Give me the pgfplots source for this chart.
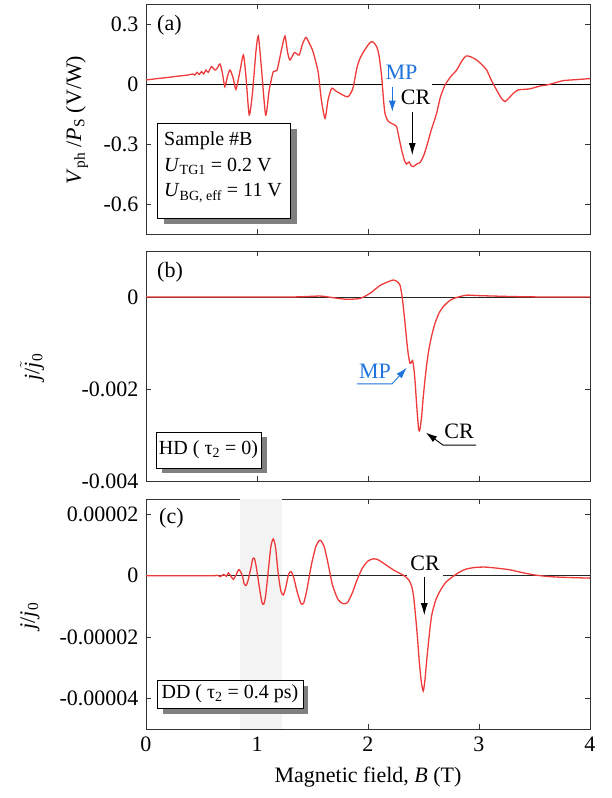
\documentclass[border=0pt]{standalone}
\usepackage{fontspec}
\setmainfont{Liberation Serif}
\usepackage{pgfplots}
\usepackage{pgfplotstable}
\pgfplotsset{compat=1.18}
\usetikzlibrary{arrows.meta}
\definecolor{cred}{RGB}{238,58,58}
\definecolor{cblue}{RGB}{30,115,220}
\definecolor{shadowgray}{RGB}{128,128,128}
\definecolor{bandgray}{RGB}{243,243,243}

\pgfplotstableread{
B V
0 0.020
0.1 0.027
0.2 0.033
0.3 0.040
0.38 0.045
0.42 0.050
0.44 0.045
0.46 0.058
0.48 0.048
0.50 0.062
0.52 0.050
0.54 0.070
0.56 0.058
0.59 0.087
0.62 0.070
0.64 0.078
0.667 0.100
0.69 0.050
0.71 -0.013
0.735 0.040
0.757 0.070
0.785 0.030
0.81 -0.027
0.845 0.060
0.877 0.145
0.90 0.040
0.93 -0.155
0.96 -0.040
0.99 0.160
1.012 0.240
1.04 0.080
1.078 -0.155
1.11 -0.030
1.147 0.062
1.18 0.068
1.22 0.170
1.252 0.240
1.275 0.160
1.297 0.120
1.336 0.157
1.36 0.150
1.381 0.145
1.41 0.200
1.441 0.233
1.47 0.205
1.50 0.170
1.53 0.110
1.553 0.053
1.58 -0.080
1.613 -0.172
1.64 -0.080
1.673 -0.022
1.71 -0.035
1.748 -0.047
1.79 -0.060
1.823 -0.063
1.85 -0.040
1.868 -0.013
1.90 0.080
1.928 0.128
1.97 0.170
2.018 0.207
2.045 0.210
2.078 0.187
2.10 0.140
2.123 0.037
2.14 -0.080
2.153 -0.147
2.18 -0.185
2.213 -0.197
2.24 -0.205
2.258 -0.213
2.28 -0.270
2.303 -0.330
2.33 -0.385
2.348 -0.400
2.37 -0.390
2.39 -0.410
2.408 -0.413
2.44 -0.400
2.468 -0.393
2.50 -0.360
2.528 -0.313
2.57 -0.230
2.618 -0.147
2.65 -0.070
2.694 -0.005
2.75 0.040
2.799 0.070
2.84 0.110
2.883 0.140
2.93 0.135
2.979 0.120
3.02 0.100
3.069 0.070
3.11 0.020
3.159 -0.030
3.20 -0.070
3.234 -0.088
3.27 -0.070
3.309 -0.047
3.35 -0.030
3.399 -0.027
3.45 -0.025
3.50 -0.018
3.55 -0.010
3.61 -0.005
3.68 0.005
3.76 0.017
3.88 0.022
4.0 0.027
}\dataA

\pgfplotstableread{
B J
0 0
1.2 0
1.4 0.000005
1.57 0.00002
1.70 -0.00002
1.81 -0.00005
1.93 -0.00003
2.018 0.00008
2.108 0.00025
2.18 0.00033
2.228 0.00037
2.26 0.00034
2.288 0.00026
2.305 0.00005
2.318 -0.00021
2.335 -0.00060
2.348 -0.00093
2.363 -0.00125
2.378 -0.00144
2.390 -0.00142
2.402 -0.00138
2.413 -0.00155
2.423 -0.00180
2.440 -0.00240
2.455 -0.00285
2.462 -0.00291
2.470 -0.00285
2.483 -0.00260
2.498 -0.00217
2.52 -0.00165
2.543 -0.00122
2.57 -0.00088
2.604 -0.00057
2.64 -0.00035
2.678 -0.00021
2.74 -0.00007
2.799 -0.00001
2.889 0.00004
3.0 0.00003
3.3 0.00001
3.6 0.0
4.0 0.0
}\dataB

\pgfplotstableread{
B J
0 0
0.60 0
0.64 0.2e-6
0.67 -0.3e-6
0.70 0.4e-6
0.725 -0.2e-6
0.742 0.9e-6
0.762 0
0.787 -1.2e-6
0.812 0.3e-6
0.838 2.0e-6
0.868 0
0.884 -2.6e-6
0.902 -3.2e-6
0.920 -1.5e-6
0.945 2.5e-6
0.962 5.5e-6
0.978 5.5e-6
0.995 2.5e-6
1.020 -3.5e-6
1.045 -8.8e-6
1.062 -9.2e-6
1.078 -6.5e-6
1.100 1.0e-6
1.125 9.5e-6
1.147 1.2e-5
1.168 9.0e-6
1.190 1.0e-6
1.215 -5.0e-6
1.237 -6.3e-6
1.258 -4.0e-6
1.285 0.5e-6
1.308 1.3e-6
1.330 -0.5e-6
1.36 -5e-6
1.395 -9.0e-6
1.420 -9.0e-6
1.45 -4.5e-6
1.49 3.5e-6
1.53 9.5e-6
1.568 1.16e-5
1.605 9.5e-6
1.64 4e-6
1.68 -3e-6
1.73 -7.8e-6
1.775 -9.1e-6
1.815 -8.8e-6
1.86 -5.5e-6
1.90 -1.5e-6
1.95 2.5e-6
2.00 4.8e-6
2.05 5.5e-6
2.09 5.2e-6
2.15 3.8e-6
2.228 1.9e-6
2.30 0.5e-6
2.333 -0.2e-6
2.37 -1.5e-6
2.393 -3.4e-6
2.41 -6.5e-6
2.423 -1.1e-5
2.443 -1.9e-5
2.462 -2.8e-5
2.48 -3.45e-5
2.498 -3.76e-5
2.513 -3.4e-5
2.528 -2.8e-5
2.55 -2.0e-5
2.573 -1.31e-5
2.61 -8e-6
2.649 -5e-6
2.70 -2.2e-6
2.768 -0.2e-6
2.83 1.3e-6
2.889 2.2e-6
2.97 2.7e-6
3.054 2.8e-6
3.15 2.5e-6
3.279 1.9e-6
3.39 1.0e-6
3.489 0.3e-6
3.60 -0.2e-6
3.73 -0.5e-6
4.0 -0.8e-6
}\dataC

\pgfplotsset{
  myax/.style={
    scale only axis, width=444pt, height=230pt, anchor=north west,
    xmin=0, xmax=4, xtick={0,1,2,3,4},
    tick align=inside, major tick length=5pt,
    axis line style={black!80, line width=0.8pt},
    every tick/.style={black!80, line width=0.6pt},
    scaled y ticks=false, scaled x ticks=false,
    yticklabel style={font=\fontsize{22}{26}\selectfont},
    xticklabel style={font=\fontsize{22}{26}\selectfont},
  },
  curve/.style={cred, line width=1.3pt, smooth, tension=0.4, no markers},
}

\begin{document}
\fontsize{22}{26}\selectfont
\begin{tikzpicture}[x=1pt,y=1pt]
\path[use as bounding box] (0,0) rectangle (612,-798);

% ---------- panel (a)
\begin{axis}[myax, at={(146pt,-4pt)},
  ymin=-0.75, ymax=0.4,
  ytick={-0.6,-0.3,0,0.3}, yticklabels={-0.6,-0.3,0,0.3},
  xticklabels={}]
\draw[black, line width=0.7pt] (axis cs:0,0) -- (axis cs:2.126,0);
\draw[black, line width=0.7pt] (axis cs:2.577,0) -- (axis cs:4,0);
\addplot[curve] table[x=B,y=V] {\dataA};
\node[cblue] at (axis cs:2.302,0.06) {MP};
\node[black] at (axis cs:2.428,-0.065) {CR};
\draw[cblue, line width=0.8pt, -{Latex[length=11pt,width=7pt]}] (axis cs:2.219,-0.0135) -- (axis cs:2.219,-0.1385);
\draw[black, line width=0.8pt, -{Latex[length=12pt,width=7pt]}] (axis cs:2.399,-0.14) -- (axis cs:2.399,-0.355);
\end{axis}

% ---------- panel (b)
\begin{axis}[myax, at={(146pt,-251pt)},
  ymin=-0.004, ymax=0.001,
  ytick={-0.004,-0.002,0}, yticklabels={-0.004,-0.002,0},
  xticklabels={}]
\draw[black!85, line width=0.7pt] (axis cs:0,0) -- (axis cs:4,0);
\addplot[curve] table[x=B,y=J] {\dataB};
\node[cblue] at (axis cs:2.063,-0.00161) {MP};
\draw[cblue, line width=0.9pt, -{Latex[length=11pt,width=7pt]}] (axis cs:1.90,-0.00189) -- (axis cs:2.216,-0.00189) -- (axis cs:2.349,-0.00154);
\node[black] at (axis cs:2.82,-0.00293) {CR};
\draw[black, line width=0.9pt, -{Latex[length=11pt,width=7pt]}] (axis cs:2.973,-0.00322) -- (axis cs:2.676,-0.00322) -- (axis cs:2.523,-0.00295);
\end{axis}

% ---------- panel (c)
\begin{axis}[myax, at={(146pt,-499pt)},
  ymin=-5e-5, ymax=2.5e-5,
  ytick={-4e-5,-2e-5,0,2e-5}, yticklabels={-0.00004,-0.00002,0,0.00002},
  xticklabels={0,1,2,3,4}]
\fill[bandgray] (axis cs:0.847,-5e-5) rectangle (axis cs:1.225,2.5e-5);
\draw[black!85, line width=0.7pt] (axis cs:0,0) -- (axis cs:2.348,0);
\draw[black!85, line width=0.7pt] (axis cs:2.678,0) -- (axis cs:4,0);
\addplot[curve] table[x=B,y=J] {\dataC};
\node[black] at (axis cs:2.514,3.9e-6) {CR};
\draw[black, line width=0.8pt, -{Latex[length=12pt,width=7pt]}] (axis cs:2.507,-0.3e-6) -- (axis cs:2.507,-1.29e-5);
\end{axis}

% ---------- labels
\node[rotate=90] at (77,-120) {\textit{V}\textsubscript{ph} /\textit{P}\textsubscript{S} (V/W)};
\node[rotate=90] at (32,-367) {\textit{j}/$\tilde{\mbox{\textit{j}}}$\textsubscript{0}};
\node[rotate=90] at (30,-616) {\textit{j}/\textit{j}\textsubscript{0}};
\node at (368,-777) {Magnetic field, \textit{B} (T)};

\node[anchor=west, inner sep=0] at (157,-25) {(a)};
\node[anchor=west, inner sep=0] at (157,-272) {(b)};
\node[anchor=west, inner sep=0] at (159,-518) {(c)};

% ---------- boxes
\fill[shadowgray] (164,-129) rectangle (297,-224);
\draw[black, fill=white, line width=0.8pt] (157,-123) rectangle (290,-218);
\begin{scope}[font=\fontsize{20}{24}\selectfont]
\node[anchor=west, inner sep=0] at (164,-141) {Sample \#B};
\node[anchor=west, inner sep=0] at (164,-166) {\textit{U}\textsubscript{TG1} = 0.2 V};
\node[anchor=west, inner sep=0] at (164,-193) {\textit{U}\textsubscript{BG, eff} = 11 V};
\end{scope}

\fill[shadowgray] (162,-437) rectangle (267,-473);
\draw[black, fill=white, line width=0.8pt] (156,-432) rectangle (261,-468);
\node[font=\fontsize{20}{24}\selectfont] at (208.5,-450) {HD ( τ\textsubscript{2} = 0)};

\fill[shadowgray] (163,-686) rectangle (308,-714);
\draw[black, fill=white, line width=0.8pt] (157,-680) rectangle (303,-708);
\node[font=\fontsize{20}{24}\selectfont] at (230,-694) {DD ( τ\textsubscript{2} = 0.4 ps)};
\end{tikzpicture}
\end{document}
